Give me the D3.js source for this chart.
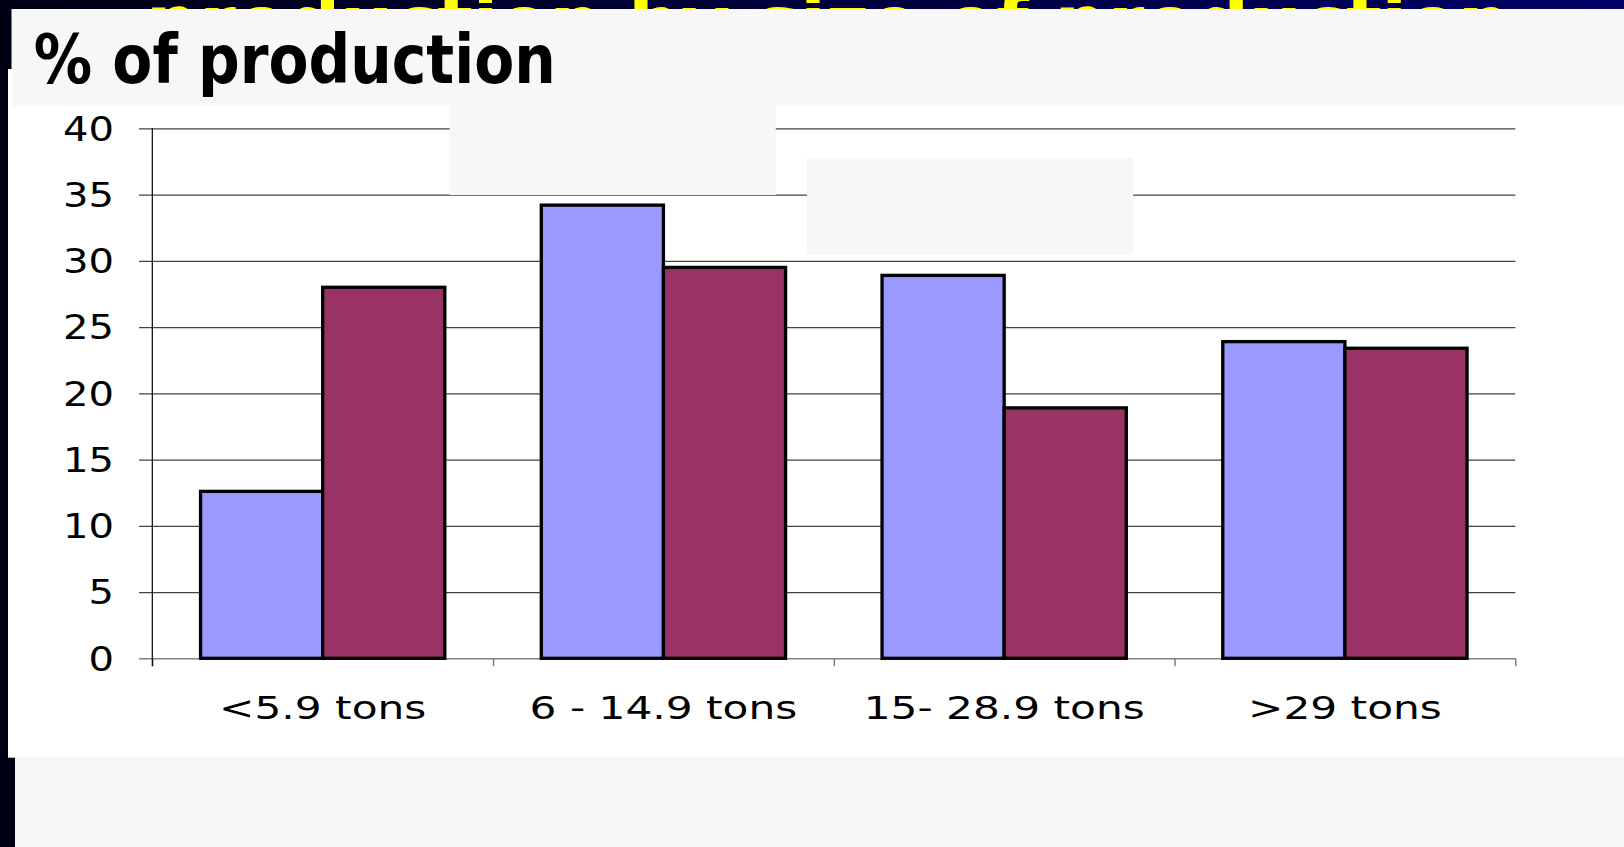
<!DOCTYPE html>
<html>
<head>
<meta charset="utf-8">
<script src="https://cdn.jsdelivr.net/npm/d3@7"></script>
<style>
  body { margin: 0; background: #000020; overflow: hidden; }
  svg { display: block; }
</style>
</head>
<body>
<script>
// data
const categories = ['<5.9 tons', '6 - 14.9 tons', '15- 28.9 tons', '>29 tons'];
const seriesNames = ['a', 'b'];
const seriesA = [12.6, 34.2, 28.9, 23.9];
const seriesB = [28.0, 29.5, 18.9, 23.4];
const seriesColors = ['#9999ff', '#993366'];
const yTicks = [0, 5, 10, 15, 20, 25, 30, 35, 40];
const slideTitle = 'production by size of production';
const chartTitle = '% of production';

const W = 1624, H = 847;
const plot = { left: 152.3, right: 1515.3, top: 128.3, bottom: 658.3 };

const svg = d3.select('body').append('svg')
  .attr('width', W)
  .attr('height', H)
  .attr('viewBox', [0, 0, W, H]);

// slide background
const grad = svg.append('defs').append('linearGradient')
  .attr('id', 'bg').attr('x1', 0).attr('x2', 1).attr('y1', 0).attr('y2', 0);
grad.append('stop').attr('offset', '0%').attr('stop-color', '#000014');
grad.append('stop').attr('offset', '100%').attr('stop-color', '#000066');
svg.append('rect').attr('width', W).attr('height', H).attr('fill', 'url(#bg)');

// slide title, mostly hidden under the pasted chart
const st = svg.append('text')
  .attr('x', 146).attr('y', 46)
  .attr('font-family', 'DejaVu Sans, Verdana, sans-serif')
  .attr('font-weight', 'bold')
  .attr('font-size', 70)
  .attr('fill', '#ffff00')
  .text(slideTitle);
st.attr('textLength', 1365).attr('lengthAdjust', 'spacingAndGlyphs');

// chart panels
svg.append('rect').attr('x', 8).attr('y', 69).attr('width', W - 8).attr('height', 757.7 - 69).attr('fill', '#ffffff');
svg.append('rect').attr('x', 11.5).attr('y', 9).attr('width', W - 11.5).attr('height', 97).attr('fill', '#f7f7f7');
svg.append('rect').attr('x', 15).attr('y', 757).attr('width', W - 15).attr('height', H - 757).attr('fill', '#f7f7f7');

const tt = svg.append('text')
  .attr('x', 33.7).attr('y', 83)
  .attr('font-family', 'DejaVu Sans, Verdana, sans-serif')
  .attr('font-weight', 'bold')
  .attr('font-size', 68)
  .attr('fill', '#000')
  .text(chartTitle);
tt.attr('textLength', 522).attr('lengthAdjust', 'spacingAndGlyphs');

// scales
const y = d3.scaleLinear().domain([0, 40]).range([plot.bottom, plot.top]);
const x0 = d3.scaleBand().domain(categories).range([plot.left, plot.right]);
const x1 = d3.scaleBand().domain(seriesNames).range([0, x0.bandwidth()]).paddingOuter(0.395);
const xEdge = d3.scaleLinear().domain([0, categories.length]).range([plot.left, plot.right]);

// stretch svg text horizontally, like the original slide
function stretch(sel, k) {
  sel.each(function() {
    const w = this.getComputedTextLength();
    d3.select(this).attr('textLength', w * k).attr('lengthAdjust', 'spacingAndGlyphs');
  });
}

// y axis with gridlines
const gy = svg.append('g')
  .attr('transform', `translate(139,0)`)
  .call(d3.axisLeft(y).tickValues(yTicks).tickSize(-(plot.right - 139)).tickPadding(25));
gy.select('.domain').remove();
gy.selectAll('.tick line').attr('stroke', '#444').attr('stroke-width', 1.2);
gy.selectAll('.tick').filter(d => d === 0).select('line').attr('stroke', '#808080').attr('stroke-width', 1.6);
gy.selectAll('.tick text')
  .attr('font-family', 'DejaVu Sans, Verdana, sans-serif')
  .attr('font-size', 33)
  .attr('fill', '#000')
  .attr('dy', '0.36em')
  .call(stretch, 1.215);

// blank boxes pasted over the chart
svg.append('rect').attr('x', 449.6).attr('y', 105).attr('width', 326.2).attr('height', 90).attr('fill', '#f7f7f7');
svg.append('rect').attr('x', 807).attr('y', 158).attr('width', 326).attr('height', 96.7).attr('fill', '#f7f7f7');

// x axis ticks at the category edges
const gx = svg.append('g')
  .attr('transform', `translate(0,${plot.bottom})`)
  .call(d3.axisBottom(xEdge).tickValues(d3.range(categories.length + 1)).tickSize(8).tickFormat(''));
gx.select('.domain').remove();
gx.selectAll('.tick line').attr('stroke', '#808080').attr('stroke-width', 1.5);

// y axis line
svg.append('line')
  .attr('x1', plot.left).attr('x2', plot.left)
  .attr('y1', plot.top).attr('y2', plot.bottom + 8)
  .attr('stroke', '#000').attr('stroke-width', 1.2);

// bars
const rows = categories.map((c, i) => ({ cat: c, vals: [seriesA[i], seriesB[i]] }));
svg.append('g').selectAll('g')
  .data(rows)
  .join('g')
  .attr('transform', d => `translate(${x0(d.cat)},0)`)
  .selectAll('rect')
  .data(d => d.vals.map((v, j) => ({ key: seriesNames[j], v, j })))
  .join('rect')
  .attr('x', d => x1(d.key))
  .attr('y', d => y(d.v))
  .attr('width', x1.bandwidth())
  .attr('height', d => y(0) - y(d.v))
  .attr('fill', d => seriesColors[d.j])
  .attr('stroke', '#000')
  .attr('stroke-width', 3.3);

// category labels
const gl = svg.append('g')
  .attr('transform', `translate(0,${plot.bottom})`)
  .call(d3.axisBottom(x0).tickSize(0));
gl.select('.domain').remove();
gl.selectAll('.tick text')
  .attr('font-family', 'DejaVu Sans, Verdana, sans-serif')
  .attr('font-size', 32)
  .attr('fill', '#000')
  .attr('y', 61)
  .attr('dy', 0)
  .call(stretch, 1.32);
</script>
</body>
</html>
